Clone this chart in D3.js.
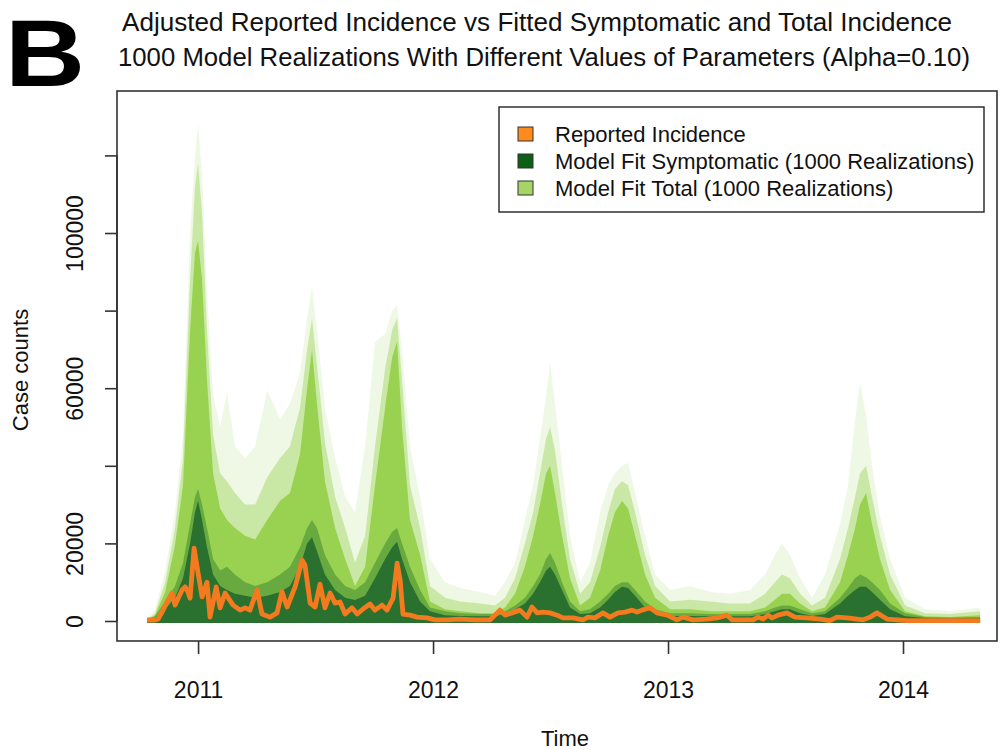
<!DOCTYPE html>
<html><head><meta charset="utf-8">
<script src="https://cdn.jsdelivr.net/npm/d3@7"></script>
<style>body{margin:0;background:#fff}svg{display:block}text{font-family:"Liberation Sans",Arial,sans-serif}</style>
</head><body>
<svg id="c" width="1005" height="750"></svg>
<script>
// ---- data ----
const envTime = [2010.783,2010.817,2010.860,2010.902,2010.936,2010.966,2010.987,2011.000,2011.017,2011.038,2011.064,2011.094,2011.123,2011.157,2011.200,2011.243,2011.294,2011.349,2011.391,2011.434,2011.464,2011.485,2011.506,2011.540,2011.583,2011.626,2011.668,2011.711,2011.753,2011.796,2011.826,2011.847,2011.868,2011.902,2011.945,2011.987,2012.051,2012.115,2012.200,2012.264,2012.306,2012.349,2012.391,2012.426,2012.455,2012.481,2012.498,2012.519,2012.549,2012.583,2012.626,2012.668,2012.711,2012.745,2012.774,2012.804,2012.830,2012.860,2012.902,2012.945,2013.009,2013.094,2013.179,2013.264,2013.349,2013.413,2013.455,2013.485,2013.519,2013.562,2013.613,2013.668,2013.732,2013.766,2013.796,2013.817,2013.843,2013.868,2013.902,2013.945,2014.009,2014.094,2014.200,2014.328];
const totalMax  = [600,3000,13000,28000,48000,100000,120000,128000,115000,85000,58000,50000,59000,45000,42000,45000,59500,52000,56000,64000,78000,86000,75000,55000,42000,32000,28000,45000,72000,74000,80000,81400,70000,45000,32000,16000,10000,8500,7500,6500,10000,15000,26000,35000,47000,58000,66500,56000,40000,22000,10000,15000,28000,35000,38000,40000,40700,33000,22000,12000,8000,9000,7500,7000,8000,12000,17000,20000,17000,11000,6000,12000,25000,35000,52000,61300,53000,40000,27000,16000,6000,3000,2500,3500];
const totalHigh = [400,2000,10000,24000,42000,88000,112000,118000,105000,75000,48000,38000,36000,33000,30000,30000,37000,42000,45000,55000,70000,78000,66000,46000,32000,24000,15000,22000,45000,65000,75000,78000,62000,35000,24000,9000,6000,5000,4500,4000,6000,11000,20000,28000,38000,47000,50000,44000,30000,16000,7000,10000,19000,28000,34000,36000,35000,28000,17000,9000,5000,5500,5000,4500,4500,7000,10000,12000,11000,7000,4000,6000,16000,24000,32000,38000,40000,32000,22000,12000,4000,2000,1800,2500];
const totalCore = [300,1500,7500,19600,35000,75000,95000,98000,88000,62000,38000,29000,26000,24000,22000,21000,26000,31000,33000,43000,60000,70000,56000,36000,24000,16000,9000,14000,35000,55000,68000,72000,50000,26000,17000,5000,3000,2500,2000,2000,3500,7000,14000,22000,30000,38000,40000,33000,22000,11000,4000,6000,13000,22000,28000,31000,29000,22000,12000,6000,3000,3000,2500,2500,2500,3500,5500,7000,7000,4500,2500,3500,10000,17000,24000,30000,33000,25000,16000,8000,2500,1200,1000,1500];
const sympMax   = [300,1200,5000,9000,15000,25000,32000,34000,30000,24000,16000,13000,14000,12000,10000,9000,10000,12000,14000,19000,24000,26000,24000,17000,12000,9000,8000,10000,15000,20000,23000,24000,20000,14000,8000,3500,2500,2000,1800,1800,2500,4000,6000,9000,12000,16000,17500,15000,10000,5000,2500,3000,5000,7000,9000,10000,10000,8000,5000,3000,2000,2000,1800,1800,1800,2500,3500,4000,4000,3000,2000,2500,6000,8500,11000,12000,11300,10000,8000,4500,2000,1000,900,1000];
const sympCore  = [200,800,3000,6000,11000,20000,28000,31000,26000,19000,12000,9000,8000,7000,6500,6000,6500,7500,9000,14000,20000,21600,18000,12000,8000,6000,5400,6500,11000,16000,19000,20400,16000,10000,5000,2500,1500,1300,1200,1200,1800,3000,4500,7000,10000,13000,14000,12000,8000,3500,1800,2000,3500,5500,7500,8800,8500,6500,3500,2000,1300,1300,1200,1200,1200,1800,2500,3000,3000,2000,1300,1800,4500,6500,8000,8800,8800,7500,5500,3000,1200,800,700,800];
const reportedTime = [2010.783,2010.817,2010.830,2010.851,2010.872,2010.889,2010.902,2010.932,2010.945,2010.957,2010.966,2010.983,2011.000,2011.017,2011.038,2011.051,2011.077,2011.094,2011.115,2011.149,2011.179,2011.200,2011.221,2011.251,2011.272,2011.306,2011.336,2011.357,2011.379,2011.413,2011.443,2011.455,2011.477,2011.498,2011.519,2011.540,2011.562,2011.583,2011.604,2011.626,2011.655,2011.677,2011.702,2011.732,2011.753,2011.783,2011.804,2011.830,2011.847,2011.860,2011.872,2011.902,2011.932,2011.974,2012.009,2012.060,2012.115,2012.179,2012.243,2012.285,2012.306,2012.336,2012.370,2012.400,2012.421,2012.443,2012.468,2012.498,2012.528,2012.553,2012.596,2012.638,2012.660,2012.689,2012.723,2012.753,2012.787,2012.817,2012.847,2012.868,2012.889,2012.923,2012.953,2012.996,2013.038,2013.064,2013.106,2013.166,2013.209,2013.251,2013.272,2013.362,2013.383,2013.404,2013.426,2013.443,2013.468,2013.506,2013.540,2013.591,2013.647,2013.689,2013.719,2013.762,2013.830,2013.860,2013.889,2013.932,2013.974,2014.017,2014.115,2014.221,2014.328];
const reportedValues = [260,260,500,2800,5400,7200,4100,8000,8800,7500,5900,18800,12400,6200,10000,1000,8800,3400,7200,4100,2800,3400,2800,8000,1800,1000,2100,7500,3600,8800,15700,14400,4600,3600,9500,3400,7200,4600,4900,1800,3400,1800,3100,4400,2800,4100,2800,5900,14900,10600,1800,1500,1000,800,300,300,500,300,300,2800,1500,2100,2800,1000,3600,2100,2300,2100,1500,800,800,300,1000,800,2100,1000,2100,2300,2800,2300,2800,3400,2100,1500,300,1000,300,500,800,1500,300,300,1000,500,1500,800,1500,2100,1000,800,500,100,1000,800,300,1000,2100,500,300,100,100,100,100];
const yTicks = [0,20000,40000,60000,80000,100000,120000];
const yLabelled = [0,20000,60000,100000];
const xTicks = [2011,2012,2013,2014];
const legendLabels = ["Reported Incidence","Model Fit Symptomatic (1000 Realizations)","Model Fit Total (1000 Realizations)"];
const legendColors = ["#ff8a1e","#0c5f14","#a6d465"];

// ---- chart ----
const svg = d3.select("#c");
const x = d3.scaleLinear().domain([2010.655, 2014.4]).range([117, 997]);
const y = d3.scaleLinear().domain([-5155, 136600]).range([641, 91]);

svg.append("clipPath").attr("id","clip").append("rect")
  .attr("x",x.range()[0]).attr("y",y.range()[1]).attr("width",x.range()[1]-x.range()[0]).attr("height",y.range()[0]-y.range()[1]);
const g = svg.append("g").attr("clip-path","url(#clip)");

function band(vals, color, op){
  const data = envTime.map((t,i)=>[t,vals[i]]);
  g.append("path").datum(data)
   .attr("d", d3.area().x(d=>x(d[0])).y0(y(0)+2).y1(d=>y(d[1])).curve(d3.curveLinear))
   .attr("fill", color).attr("fill-opacity", op);
}
band(totalMax, "#9ad454", 0.16);
band(totalHigh, "#97d24e", 0.42);
band(totalCore, "#96d14b", 0.95);
band(sympMax, "#2d7a2c", 0.45);
band(sympCore, "#286e2d", 0.97);

const rep = reportedTime.map((t,i)=>[t,reportedValues[i]]);
g.append("path").datum(rep)
  .attr("d", d3.line().x(d=>x(d[0])).y(d=>y(d[1])))
  .attr("fill","none").attr("stroke","#f47a1f").attr("stroke-width",4.8).attr("stroke-linejoin","round");

// box
svg.append("rect").attr("x",117).attr("y",91).attr("width",880).attr("height",550)
  .attr("fill","none").attr("stroke","#333").attr("stroke-width",1.6);

// y axis
const ya = svg.append("g").attr("transform","translate(117,0)")
  .call(d3.axisLeft(y).tickValues(yTicks).tickSize(12).tickFormat(d=>yLabelled.includes(d)?String(d):""));
ya.select(".domain").attr("stroke","#333").attr("stroke-width",1.6).attr("d",`M0,${y(0)}V${y(120000)}`);
ya.selectAll(".tick line").attr("stroke","#333").attr("stroke-width",1.6);
ya.selectAll(".tick text").attr("font-size",23).attr("fill","#111")
  .attr("x",null).attr("dy","0.35em")
  .attr("text-anchor","middle")
  .attr("transform","translate(-42,0) rotate(-90)");

// x axis
const xa = svg.append("g").attr("transform","translate(0,641)")
  .call(d3.axisBottom(x).tickValues(xTicks).tickSize(13).tickFormat(d3.format("d")));
xa.select(".domain").remove();
xa.selectAll(".tick line").attr("stroke","#333").attr("stroke-width",1.6);
xa.selectAll(".tick text").attr("font-size",23).attr("fill","#111").attr("y",49).attr("dy","0.35em");

// axis titles
svg.append("text").attr("x",565).attr("y",738).attr("dy","0.35em").attr("text-anchor","middle")
  .attr("font-size",22).attr("fill","#111").text("Time");
svg.append("text").attr("transform","translate(20,370) rotate(-90)").attr("dy","0.35em").attr("text-anchor","middle")
  .attr("font-size",22).attr("fill","#111").text("Case counts");

// titles
svg.append("text").attr("x",537).attr("y",22).attr("dy","0.35em").attr("text-anchor","middle")
  .attr("font-size",25).attr("fill","#111").attr("textLength",830).attr("lengthAdjust","spacingAndGlyphs")
  .text("Adjusted Reported Incidence vs Fitted Symptomatic and Total Incidence");
svg.append("text").attr("x",544).attr("y",57).attr("dy","0.35em").attr("text-anchor","middle")
  .attr("font-size",25).attr("fill","#111").attr("textLength",852).attr("lengthAdjust","spacingAndGlyphs")
  .text("1000 Model Realizations With Different Values of Parameters (Alpha=0.10)");
svg.append("text").attr("x",5).attr("y",86).attr("font-size",95).attr("font-weight","bold").attr("fill","#000")
  .attr("textLength",80).attr("lengthAdjust","spacingAndGlyphs").text("B");

// legend
const lg = svg.append("g");
lg.append("rect").attr("x",499).attr("y",107).attr("width",485).attr("height",105)
  .attr("fill","#fff").attr("stroke","#222").attr("stroke-width",1.4);
legendLabels.forEach((lab,i)=>{
  const cy = 134 + i*27;
  lg.append("rect").attr("x",518).attr("y",cy-7).attr("width",15).attr("height",14)
    .attr("fill",legendColors[i]).attr("stroke","#333").attr("stroke-width",1);
  lg.append("text").attr("x",555).attr("y",cy).attr("dy","0.35em").attr("font-size",22).attr("fill","#111").text(lab);
});
</script>
</body></html>
